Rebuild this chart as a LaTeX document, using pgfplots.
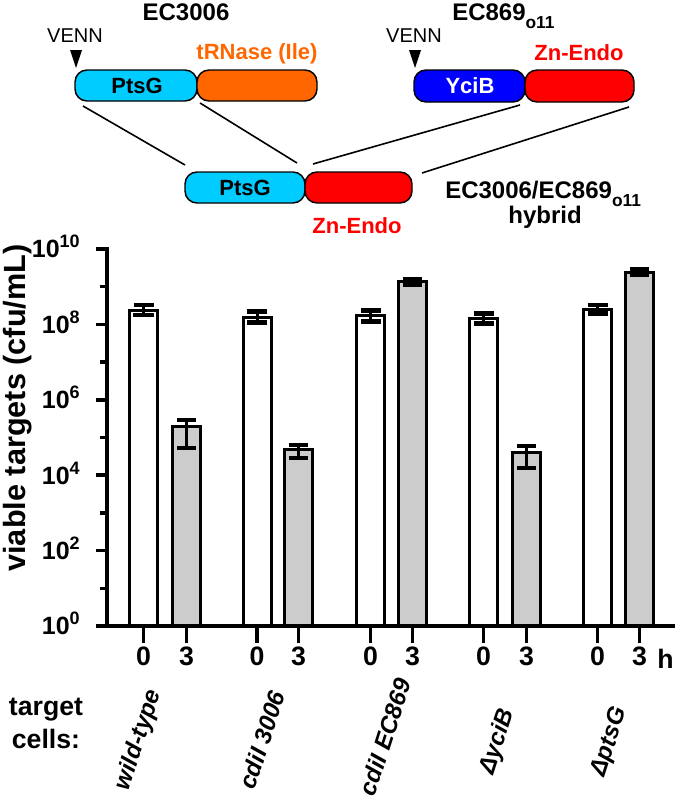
\documentclass[border=0pt]{standalone}
\usepackage{fontspec}
\setmainfont{Liberation Sans}
\usepackage{pgfplots}
\pgfplotsset{compat=1.18}
\usepackage{pgfplotstable}
\newcommand{\fs}[1]{\fontsize{#1}{#1}\selectfont}
\newcommand{\sps}[1]{\raisebox{7.5pt}{\fs{13.5pt}#1}}
\definecolor{cyanbox}{RGB}{0,204,255}
\definecolor{orangebox}{RGB}{255,102,0}
\definecolor{bluebox}{RGB}{0,0,255}
\definecolor{redbox}{RGB}{255,0,0}
\definecolor{barfill}{RGB}{204,204,204}

\pgfplotstableread{
x y ep em
143.5 2.4e8 0.86e8 0.64e8
257 1.55e8 0.62e8 0.44e8
370.5 1.7e8 0.68e8 0.49e8
483.5 1.45e8 0.52e8 0.38e8
597.5 2.5e8 0.75e8 0.58e8
}\zerohr
\pgfplotstableread{
x y ep em
186.5 1.9e5 1.0e5 1.38e5
298.5 4.7e4 1.8e4 1.9e4
412.5 1.35e9 0.27e9 0.225e9
526.5 4.1e4 1.8e4 2.5e4
639.5 2.4e9 0.48e9 0.4e9
}\threehr

\begin{document}
\begin{tikzpicture}
\begin{scope}[x=0.75pt,y=-0.75pt]
\path[use as bounding box] (0,0) rectangle (677,803);
\tikzset{box/.style={draw=black, line width=1.1pt, rounded corners=9pt}}
% top left construct
\filldraw[box, fill=cyanbox] (75,70) rectangle (197,101);
\filldraw[box, fill=orangebox] (197,70) rectangle (317,101);
% top right construct
\filldraw[box, fill=bluebox] (414,70) rectangle (525,102);
\filldraw[box, fill=redbox] (525,70) rectangle (634,102);
% hybrid
\filldraw[box, fill=cyanbox] (185,172) rectangle (305,203);
\filldraw[box, fill=redbox] (305,172) rectangle (412,203);
% connecting lines
\draw[line width=1.2pt] (83,106)--(185,165);
\draw[line width=1.2pt] (200,103)--(297,163);
\draw[line width=1.2pt] (520,105)--(313,164);
\draw[line width=1.2pt] (629,107)--(422,173);
% triangles
\fill (70,50)--(82,50)--(76,68)--cycle;
\fill (409,50)--(421,50)--(415,68)--cycle;
% texts
\node[anchor=base, font=\fs{18pt}\bfseries, inner sep=0pt] at (186,20) {EC3006};
\node[anchor=base west, font=\fs{18pt}\bfseries, inner sep=0pt] at (452,20) {EC869\raisebox{-6pt}{\fs{13pt}o11}};
\node[anchor=base, font=\fs{15pt}, inner sep=0pt] at (75,42) {VENN};
\node[anchor=base, font=\fs{15pt}, inner sep=0pt] at (414,42) {VENN};
\node[anchor=base, font=\fs{16.5pt}\bfseries, text=orangebox, inner sep=0pt] at (257,59) {tRNase (Ile)};
\node[anchor=base, font=\fs{16.5pt}\bfseries, text=redbox, inner sep=0pt] at (579,60) {Zn-Endo};
\node[font=\fs{16.5pt}\bfseries, inner sep=0pt] at (137,86) {PtsG};
\node[font=\fs{16.5pt}\bfseries, text=white, inner sep=0pt] at (470,86) {YciB};
\node[font=\fs{16.5pt}\bfseries, inner sep=0pt] at (245,188) {PtsG};
\node[anchor=base, font=\fs{16.5pt}\bfseries, text=redbox, inner sep=0pt] at (357,233) {Zn-Endo};
\node[anchor=base west, font=\fs{18pt}\bfseries, inner sep=0pt] at (445,198) {EC3006/EC869\raisebox{-6pt}{\fs{13pt}o11}};
\node[anchor=base, font=\fs{18pt}\bfseries, inner sep=0pt] at (545,223) {hybrid};
% y label
\node[rotate=90, font=\fs{23pt}\bfseries, inner sep=0pt] at (18,408) {viable targets (cfu/mL)};
% bottom labels
\node[anchor=base, font=\fs{20pt}\bfseries, inner sep=0pt] at (46,715) {target};
\node[anchor=base, font=\fs{20pt}\bfseries, inner sep=0pt] at (46,748) {cells:};
\node[anchor=base west, font=\fs{20pt}\bfseries, inner sep=0pt] at (657,668) {h};
\node[rotate=72, font=\fs{18pt}\bfseries\itshape, inner sep=0pt] at (139,740) {wild-type};
\node[rotate=72, font=\fs{18pt}\bfseries\itshape, inner sep=0pt] at (262,740) {cdiI 3006};
\node[rotate=72, font=\fs{18pt}\bfseries\itshape, inner sep=0pt] at (385,737) {cdiI EC869};
\node[rotate=72, font=\fs{18pt}\bfseries\itshape, inner sep=0pt] at (498,742) {ΔyciB};
\node[rotate=72, font=\fs{18pt}\bfseries\itshape, inner sep=0pt] at (610,742) {ΔptsG};
\end{scope}

\begin{axis}[
  at={(80.25pt,-469.5pt)}, anchor=south west,
  scale only axis, width=424.5pt, height=282.75pt,
  xmin=107, xmax=673, ymin=1, ymax=1e10, ymode=log,
  axis x line=none, axis y line=left,
  axis line style={line width=2.6pt, -, line cap=rect},
  ytick={1,100,1e4,1e6,1e8,1e10},
  minor ytick={10,1e3,1e5,1e7,1e9},
  yticklabels={10\sps{0},10\sps{2},10\sps{4},10\sps{6},10\sps{8},10\sps{10}},
  tick align=outside, major tick length=8.5pt, minor tick length=5.5pt,
  tick style={line width=2.6pt, black},
  yticklabel shift=11.75pt,
  yticklabel style={font=\fs{18.75pt}\bfseries, anchor=base east, inner sep=0pt, yshift=-6.7pt},
  xtick=\empty,
  clip=false,
]
\addplot[ybar, bar width=21pt, bar shift=0pt, fill=white, draw=black, line width=2.25pt,
  error bars/.cd, y dir=both, y explicit, error mark=|,
  error bar style={line width=2.25pt, black},
  error mark options={line width=3.5pt, mark size=7.5pt, black}]
  table[x=x, y=y, y error plus=ep, y error minus=em] {\zerohr};
\addplot[ybar, bar width=21pt, bar shift=0pt, fill=barfill, draw=black, line width=2.25pt,
  error bars/.cd, y dir=both, y explicit, error mark=|,
  error bar style={line width=2.25pt, black},
  error mark options={line width=3pt, mark size=7pt, black}]
  table[x=x, y=y, y error plus=ep, y error minus=em] {\threehr};
\end{axis}

\begin{axis}[
  at={(80.25pt,-469.5pt)}, anchor=south west,
  scale only axis, width=424.5pt, height=282.75pt,
  xmin=107, xmax=673, ymin=0, ymax=1,
  axis y line=none, axis x line=bottom,
  axis line style={line width=2.6pt, -, line cap=rect},
  xtick={143.5,186.5,257,298.5,370.5,412.5,483.5,526.5,597.5,639.5},
  xticklabels={0,3,0,3,0,3,0,3,0,3},
  tick align=outside, major tick length=13pt,
  tick style={line width=2.6pt, black},
  xticklabel style={font=\fs{20pt}\bfseries, anchor=base, inner sep=0pt, yshift=-16.5pt},
  ytick=\empty,
]
\addplot[draw=none] coordinates {(107,0.5)};
\end{axis}
\end{tikzpicture}
\end{document}
